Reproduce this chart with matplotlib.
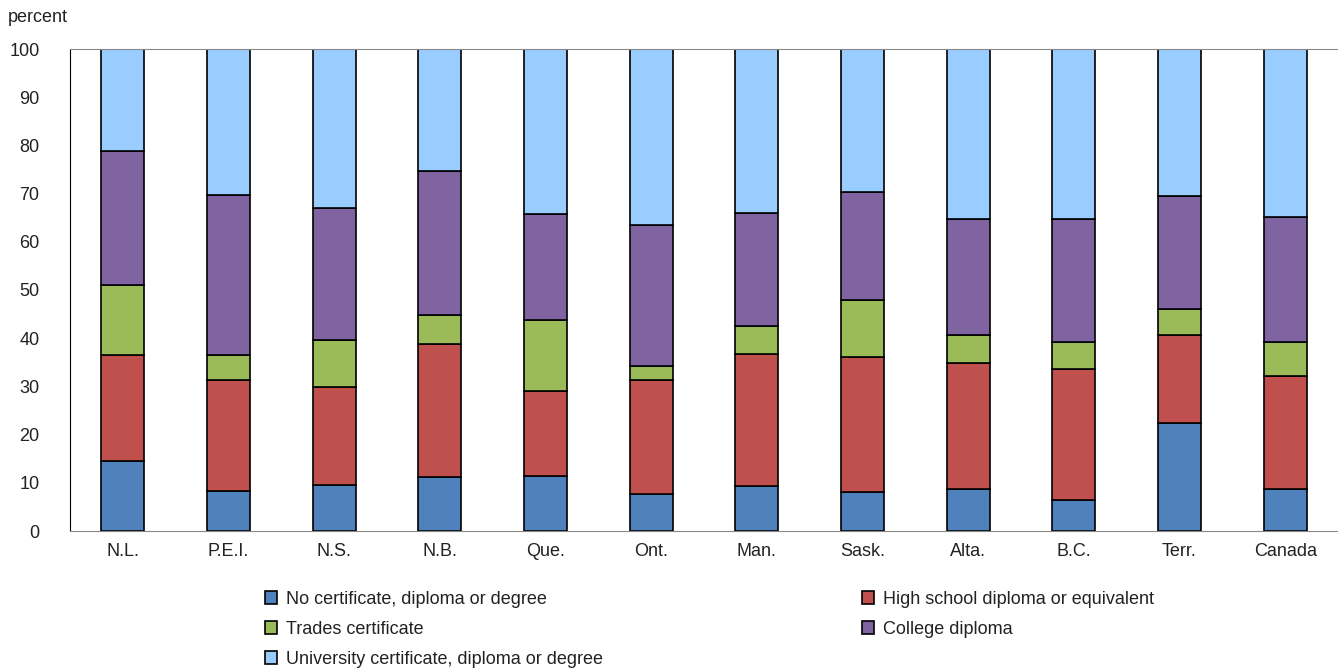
import numpy as np
import matplotlib.pyplot as plt

provinces = ['N.L.', 'P.E.I.', 'N.S.', 'N.B.', 'Que.', 'Ont.', 'Man.',
             'Sask.', 'Alta.', 'B.C.', 'Terr.', 'Canada']
no_cert = [14.5, 8.3, 9.5, 11.2, 11.4, 7.7, 9.3, 8.1, 8.7, 6.4, 22.4, 8.7]
high_school = [22.0, 23.0, 20.4, 27.6, 17.6, 23.6, 27.4, 28.0, 26.2, 27.2, 18.3, 23.5]
trades = [14.5, 5.2, 9.7, 6.0, 14.8, 2.9, 5.8, 11.8, 5.8, 5.6, 5.4, 7.0]
college = [27.8, 33.2, 27.4, 29.9, 22.0, 29.3, 23.5, 22.4, 24.0, 25.5, 23.4, 25.9]
university = [100 - a - b - c - d for a, b, c, d in
              zip(no_cert, high_school, trades, college)]

labels = ['No certificate, diploma or degree',
          'High school diploma or equivalent',
          'Trades certificate',
          'College diploma',
          'University certificate, diploma or degree']
colors = ['#4F81BD', '#C0504D', '#9BBB59', '#8064A2', '#99CCFF']
series = [no_cert, high_school, trades, college, university]

plt.rcParams['font.family'] = ['Liberation Sans', 'DejaVu Sans']

fig = plt.figure(figsize=(13.38, 6.68), dpi=100)
ax = fig.add_axes([70 / 1338, 1 - 531 / 668, 1268 / 1338, 482 / 668])

x = np.arange(len(provinces))
bottom = np.zeros(len(provinces))
handles = []
for vals, col, lab in zip(series, colors, labels):
    b = ax.bar(x, vals, width=0.41, bottom=bottom, color=col,
               edgecolor='black', linewidth=1.2, label=lab)
    handles.append(b)
    bottom += np.array(vals)

ax.set_xlim(-0.5, 11.5)
ax.set_ylim(0, 100)
ax.set_yticks(range(0, 101, 10))
ax.set_xticks(x)
ax.set_xticklabels(provinces)
ax.tick_params(length=0, labelsize=13, colors='#222222')
ax.tick_params(axis='y', pad=22)
ax.tick_params(axis='x', pad=9)
ax.spines['right'].set_visible(False)
ax.spines['top'].set_color('#888888')
ax.spines['bottom'].set_color('#888888')
ax.spines['left'].set_color('black')
fig.text(8 / 1338, 1 - 17 / 668, 'percent', fontsize=13, color='#222222',
         va='center')

# column-first fill: left column gets items 0, 2, 4
order = [0, 2, 4, 1, 3]
leg = fig.legend([handles[i] for i in order], [labels[i] for i in order],
                 ncol=2, loc='upper left', bbox_to_anchor=(252 / 1338, 1 - 578 / 668),
                 frameon=False, fontsize=13, handlelength=0.7, handleheight=0.7,
                 handletextpad=0.5, columnspacing=14.3, labelspacing=0.72,
                 borderpad=0.2)
for t in leg.get_texts():
    t.set_color('#222222')

fig.savefig('out.png', dpi=100)
